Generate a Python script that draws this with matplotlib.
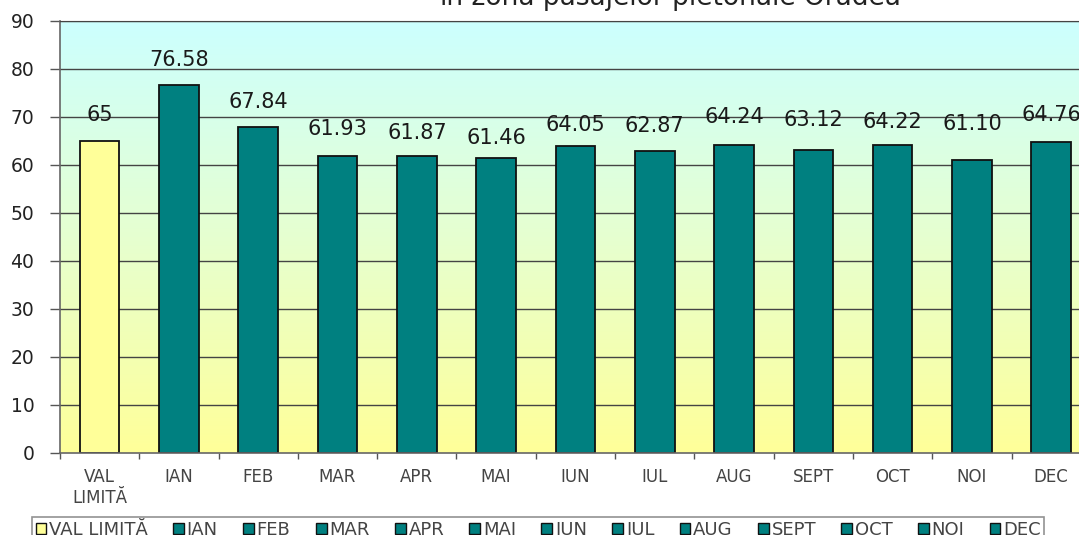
import numpy as np
import matplotlib
matplotlib.use("Agg")
import matplotlib.pyplot as plt
from matplotlib.colors import LinearSegmentedColormap
from matplotlib.patches import Patch

categories = ["VAL\nLIMITĂ", "IAN", "FEB", "MAR", "APR", "MAI", "IUN", "IUL",
              "AUG", "SEPT", "OCT", "NOI", "DEC"]
legend_labels = ["VAL LIMITĂ", "IAN", "FEB", "MAR", "APR", "MAI", "IUN", "IUL",
                 "AUG", "SEPT", "OCT", "NOI", "DEC"]
values = [65, 76.58, 67.84, 61.93, 61.87, 61.46, 64.05, 62.87, 64.24, 63.12,
          64.22, 61.10, 64.76]
value_labels = ["65", "76.58", "67.84", "61.93", "61.87", "61.46", "64.05",
                "62.87", "64.24", "63.12", "64.22", "61.10", "64.76"]
title_text = "în zona pasajelor pietonale Oradea"
yticks = [0, 10, 20, 30, 40, 50, 60, 70, 80, 90]

# layout: vertical distance (px) of each value label above its bar
label_offsets_px = [26, 25, 25, 27, 23, 20, 21, 25, 28, 30, 23, 36, 27]

plt.rcParams['font.family'] = ['DejaVu Sans']

W, H = 1079, 535
fig = plt.figure(figsize=(W / 100, H / 100), dpi=100)
fig.patch.set_facecolor("white")

left, right, top, bottom = 60, 60 + 13 * 79.3, 21, 453
ax = fig.add_axes([left / W, 1 - bottom / H, (right - left) / W, (bottom - top) / H])

colors = ["#FFFF99"] + ["#008080"] * 12
x = np.arange(len(values))

# gradient background
cmap = LinearSegmentedColormap.from_list("bg", ["#FFFF99", "#E6FFD0", "#CCFFFF"])
grad = np.linspace(0, 1, 256).reshape(-1, 1)
ax.imshow(grad, extent=[-0.5, 12.5, 0, 90], origin="lower", aspect="auto",
          cmap=cmap, zorder=0)

for yv in yticks[1:]:
    ax.axhline(yv, color="#444444", lw=1.0, zorder=1)

bars = ax.bar(x, values, width=0.5, color=colors, edgecolor="#111111",
              linewidth=1.3, zorder=2)

for xi, v, lab, off in zip(x, values, value_labels, label_offsets_px):
    ax.annotate(lab, (xi, v), xytext=(0, off * 0.72), textcoords="offset points",
                ha="center", va="center", fontsize=15, color="#1a1a1a",
                zorder=3, annotation_clip=False)

ax.set_xlim(-0.5, 12.5)
ax.set_ylim(0, 90)
ax.set_yticks(yticks)
ax.set_yticklabels([str(v) for v in yticks])
ax.tick_params(axis="y", length=7.5, width=1, color="#555555", pad=11,
               labelsize=13.5, labelcolor="#222222")
ax.set_xticks(x)
ax.set_xticklabels(categories)
ax.tick_params(axis="x", which="major", length=0, pad=11, labelsize=12,
               labelcolor="#444444")
ax.set_xticks(np.arange(-0.5, 12.6, 1), minor=True)
ax.tick_params(axis="x", which="minor", length=4, width=1, color="#555555")

ax.spines["right"].set_visible(False)
ax.spines["left"].set_color("#666666")
ax.spines["bottom"].set_color("#666666")
ax.spines["top"].set_color("#444444")
ax.spines["left"].set_linewidth(1.2)
ax.spines["bottom"].set_linewidth(1.2)

# title (partially cut at top, as in the reference)
fig.text(670 / W, 1 - 5 / H, title_text, ha="center", va="baseline",
         fontsize=19, color="#222222")

handles = [Patch(facecolor=c, edgecolor="#111111", linewidth=1.0) for c in colors]
leg = fig.legend(handles, legend_labels, loc="upper left",
                 bbox_to_anchor=(32 / W, 1 - 517 / H), ncol=13, fontsize=13,
                 frameon=True, fancybox=False, handlelength=0.6, handleheight=0.6,
                 handletextpad=0.15, columnspacing=1.4, borderpad=0.2,
                 borderaxespad=0)
leg.get_frame().set_edgecolor("#777777")
leg.get_frame().set_linewidth(1.2)
for t in leg.get_texts():
    t.set_color("#444444")

fig.savefig("out.png", dpi=100)
